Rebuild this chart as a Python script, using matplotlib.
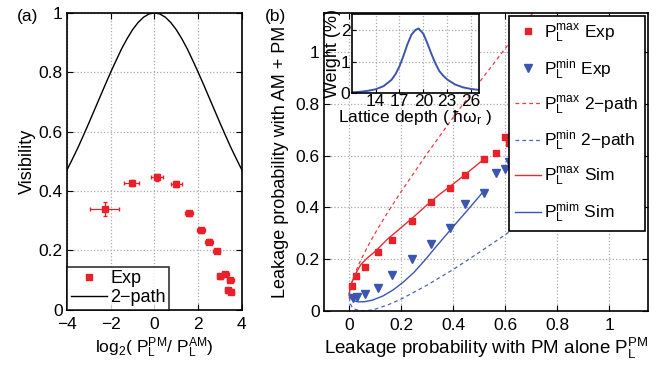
import matplotlib
matplotlib.use("Agg")
import matplotlib.pyplot as plt
from matplotlib.lines import Line2D

plt.rcParams['font.family'] = ['Liberation Sans', 'DejaVu Sans']
plt.rcParams['mathtext.fontset'] = 'custom'
plt.rcParams['mathtext.rm'] = 'Liberation Sans'
plt.rcParams['mathtext.it'] = 'Liberation Sans'
plt.rcParams['mathtext.default'] = 'regular'

RED = '#e8202a'
BLUE = '#3a56b0'

# ---- panel (a) data ----
ratio_log = [-2.28, -1.04, 0.10, 0.99, 1.57, 2.12, 2.51, 2.84, 3.01, 3.25, 3.47, 3.37, 3.50]
vis = [0.340, 0.427, 0.447, 0.425, 0.325, 0.268, 0.229, 0.198, 0.113, 0.121, 0.101, 0.067, 0.061]
vis_xerr = [0.68, 0.34, 0.28, 0.25, 0.18, 0.18, 0.18, 0.15, 0.15, 0.15, 0.15, 0.15, 0.15]
vis_yerr = [0.023, 0.011, 0.012, 0.010, 0.008, 0.008, 0.008, 0.008, 0.008, 0.008, 0.008, 0.008, 0.008]

twopath_x = [-4, -3.75, -3.5, -3.25, -3, -2.75, -2.5, -2.25, -2, -1.75, -1.5, -1.25, -1, -0.75, -0.5, -0.25,
             0, 0.25, 0.5, 0.75, 1, 1.25, 1.5, 1.75, 2, 2.25, 2.5, 2.75, 3, 3.25, 3.5, 3.75, 4]
twopath_v = [0.471, 0.508, 0.546, 0.587, 0.629, 0.672, 0.715, 0.758, 0.800, 0.840, 0.879, 0.913, 0.943, 0.967, 0.985, 0.996,
             1.0, 0.996, 0.985, 0.967, 0.943, 0.913, 0.879, 0.840, 0.800, 0.758, 0.715, 0.672, 0.629, 0.587, 0.546, 0.508, 0.471]

# ---- panel (b) data ----
pm_exp = [0.012, 0.028, 0.062, 0.112, 0.165, 0.241, 0.314, 0.388, 0.446, 0.517, 0.565, 0.601, 0.614]
max_exp = [0.095, 0.134, 0.171, 0.227, 0.275, 0.347, 0.420, 0.476, 0.524, 0.586, 0.611, 0.672, 0.650]
pm_exp_min = [0.015, 0.029, 0.062, 0.112, 0.165, 0.241, 0.314, 0.388, 0.446, 0.517, 0.565, 0.601, 0.614]
min_exp = [0.050, 0.054, 0.064, 0.090, 0.140, 0.199, 0.260, 0.319, 0.414, 0.457, 0.533, 0.548, 0.575]

pm_2p = [0, 0.005, 0.01, 0.02, 0.04, 0.054, 0.07, 0.1, 0.15, 0.2, 0.3, 0.4, 0.5, 0.6, 0.7, 0.71, 0.8, 1.0]
max_2p = [0.054, 0.092, 0.110, 0.139, 0.187, 0.215, 0.247, 0.301, 0.384, 0.461, 0.608, 0.747, 0.882, 1.013, 1.142, 1.155, 1.27, 1.52]
min_2p = [0.054, 0.026, 0.017, 0.008, 0.001, 0.0, 0.001, 0.007, 0.024, 0.046, 0.100, 0.160, 0.226, 0.294, 0.366, 0.373, 0.44, 0.59]

pm_sim_max = [0.0, 0.003, 0.01, 0.022, 0.045, 0.07, 0.1, 0.15, 0.2, 0.25, 0.3, 0.35, 0.4, 0.45, 0.517]
max_sim = [0.060, 0.088, 0.110, 0.139, 0.180, 0.205, 0.230, 0.280, 0.322, 0.365, 0.410, 0.452, 0.490, 0.530, 0.585]
pm_sim_min = [0.0, 0.005, 0.015, 0.035, 0.06, 0.09, 0.13, 0.17, 0.21, 0.25, 0.29, 0.33, 0.37, 0.41, 0.45, 0.49, 0.517]
min_sim = [0.070, 0.050, 0.040, 0.035, 0.036, 0.042, 0.058, 0.082, 0.113, 0.150, 0.195, 0.243, 0.290, 0.337, 0.383, 0.430, 0.462]

# ---- inset data ----
depth = [11, 12, 13, 14, 15, 16, 16.5, 17, 17.5, 18, 18.5, 19, 19.4, 20, 20.5, 21, 21.5, 22, 22.5, 23, 24, 25, 26, 27]
weight = [0.02, 0.04, 0.07, 0.12, 0.22, 0.42, 0.60, 0.85, 1.18, 1.55, 1.85, 2.0, 2.05, 1.88, 1.58, 1.25, 0.95, 0.70, 0.55, 0.43, 0.27, 0.18, 0.13, 0.10]


def matlab_style(ax, fs=12.5):
    ax.tick_params(direction='in', top=True, right=True, labelsize=fs, length=4, width=0.8, pad=3)
    ax.tick_params(axis='x', pad=5)
    ax.grid(True, linestyle=':', color='#aaaaaa', linewidth=0.9)
    for s in ax.spines.values():
        s.set_linewidth(1.2)
        s.set_color('black')


fig = plt.figure(figsize=(6.7, 3.65), dpi=100)

# panel (a)
axa = fig.add_axes([0.100, 0.151, 0.261, 0.814])
axa.plot(twopath_x, twopath_v, color='black', linewidth=1.0)
axa.errorbar(ratio_log, vis, xerr=vis_xerr, yerr=vis_yerr, fmt='s', color=RED, ecolor=RED,
             markersize=4.5, elinewidth=0.9, capsize=1.5, zorder=3)
axa.set_xlim(-4, 4)
axa.set_ylim(0, 1)
axa.set_xticks([-4, -2, 0, 2, 4])
axa.set_xticklabels(['\u22124', '\u22122', '0', '2', '4'])
axa.set_yticks([0, 0.2, 0.4, 0.6, 0.8, 1])
axa.set_yticklabels(['0', '0.2', '0.4', '0.6', '0.8', '1'])
matlab_style(axa)
axa.set_ylabel('Visibility', fontsize=13, labelpad=2)
axa.set_xlabel('log$_2$( P$_L^{PM}$/ P$_L^{AM}$)', fontsize=12.5, labelpad=3)
ha = [Line2D([], [], marker='s', color=RED, linestyle='none', markersize=4.5),
      Line2D([], [], color='black', linewidth=1.0)]
leg = axa.legend(ha, ['Exp', '2\u2212path'], loc='lower left', fontsize=13, frameon=True, fancybox=False,
                 borderaxespad=0.0, handlelength=2.0, handletextpad=0.2, borderpad=0.2,
                 labelspacing=0.1)
leg.get_frame().set_edgecolor('black')
leg.get_frame().set_linewidth(1.2)
fig.text(0.025, 0.955, '(a)', fontsize=12.5, ha='left', va='center')

# panel (b)
axb = fig.add_axes([0.4836, 0.148, 0.4836, 0.816])
l1, = axb.plot(pm_exp, max_exp, 's', color=RED, markersize=5, linestyle='none',
               label='P$_L^{max}$ Exp')
l2, = axb.plot(pm_exp_min, min_exp, 'v', color=BLUE, markersize=5.5, linestyle='none',
               label='P$_L^{min}$ Exp')
l3, = axb.plot(pm_2p, max_2p, '--', color='#ee3a40', linewidth=0.9, dashes=(3, 2.5),
               label='P$_L^{max}$ 2\u2212path')
l4, = axb.plot(pm_2p, min_2p, '--', color='#4a66b8', linewidth=0.9, dashes=(3, 2.5),
               label='P$_L^{min}$ 2\u2212path')
l5, = axb.plot(pm_sim_max, max_sim, '-', color='#ee2a30', linewidth=1.0, label='P$_L^{max}$ Sim')
l6, = axb.plot(pm_sim_min, min_sim, '-', color=BLUE, linewidth=1.0, label='P$_L^{mim}$ Sim')
axb.set_xlim(-0.097, 1.15)
axb.set_ylim(0, 1.15)
axb.set_xticks([0, 0.2, 0.4, 0.6, 0.8, 1])
axb.set_xticklabels(['0', '0.2', '0.4', '0.6', '0.8', '1'])
axb.set_yticks([0, 0.2, 0.4, 0.6, 0.8, 1])
axb.set_yticklabels(['0', '0.2', '0.4', '0.6', '0.8', '1'])
matlab_style(axb)
axb.set_ylabel('Leakage probability with AM + PM', fontsize=13, labelpad=5)
axb.set_xlabel('Leakage probability with PM alone P$_L^{PM}$', fontsize=13.5, labelpad=2)
legb = axb.legend(handles=[l1, l2, l3, l4, l5, l6], loc='upper right', bbox_to_anchor=(0.99, 0.99),
                  fontsize=12.5, frameon=True, fancybox=False, framealpha=1.0,
                  borderaxespad=0.0, handlelength=1.5, handletextpad=0.2, borderpad=0.35,
                  labelspacing=0.72)
legb.get_frame().set_edgecolor('black')
legb.get_frame().set_linewidth(1.2)
legb.set_zorder(5)
fig.text(0.395, 0.955, '(b)', fontsize=12.5, ha='left', va='center')

# inset
axi = fig.add_axes([0.525, 0.745, 0.19, 0.216])
axi.plot(depth, weight, color=BLUE, linewidth=1.4)
axi.set_xlim(11, 27)
axi.set_ylim(0, 2.5)
axi.set_xticks([14, 17, 20, 23, 26])
axi.set_yticks([0, 1, 2])
axi.tick_params(direction='in', labelsize=12.5, length=3, pad=1)
axi.grid(True, linestyle=':', color='#aaaaaa', linewidth=0.9)
for s in axi.spines.values():
    s.set_linewidth(1.2)
axi.set_ylabel('Weight (%)', fontsize=13, labelpad=0)
axi.set_xlabel('Lattice depth ( $\\hbar\\omega_r$ )', fontsize=12.5, labelpad=-1)

fig.savefig('out.png', dpi=100)
